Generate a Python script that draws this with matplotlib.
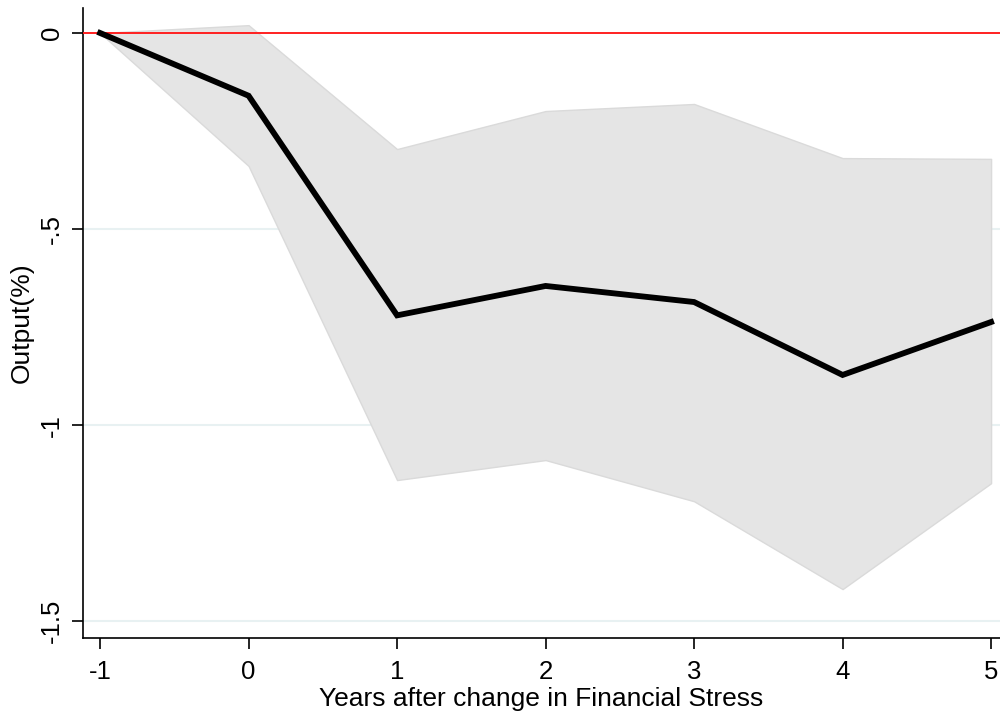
import matplotlib
matplotlib.use("Agg")
import matplotlib.pyplot as plt

plt.rcParams["font.family"] = ["Liberation Sans", "DejaVu Sans"]
plt.rcParams["axes.unicode_minus"] = False

years = [-1, 0, 1, 2, 3, 4, 5]
output_irf = [0.0, -0.16, -0.72, -0.645, -0.686, -0.872, -0.737]
upper_band = [0.0, 0.02, -0.296, -0.199, -0.181, -0.319, -0.321]
lower_band = [0.0, -0.339, -1.14, -1.089, -1.194, -1.418, -1.148]

y_ticks = [0, -0.5, -1, -1.5]
y_tick_labels = ["0", "-.5", "-1", "-1.5"]

fig = plt.figure(figsize=(10, 7.17), dpi=100)
ax = fig.add_axes([0.083, 0.11, 0.917, 0.879])

ax.fill_between(years, lower_band, upper_band, facecolor="#e5e5e5",
                edgecolor="#dadada", linewidth=1.0, zorder=2)
ax.axhline(0, color="#ff2020", linewidth=1.4, zorder=3)
ax.plot(years, output_irf, color="black", linewidth=4.2,
        solid_joinstyle="miter", zorder=4)

for y in y_ticks[1:]:
    ax.axhline(y, color="#e8f1f2", linewidth=1.5, zorder=1)

ax.set_xlim(-1.115, 5.06)
ax.set_ylim(-1.543, 0.064)
ax.set_xticks(years)
ax.set_xticklabels([str(y) for y in years])
ax.set_yticks(y_ticks)
ax.set_yticklabels(y_tick_labels, rotation=90, va="center")

ax.spines["top"].set_visible(False)
ax.spines["right"].set_visible(False)
ax.spines["left"].set_linewidth(1.2)
ax.spines["bottom"].set_linewidth(1.2)
ax.tick_params(axis="both", labelsize=18.5, length=8, width=1.2)
ax.tick_params(axis="x", pad=8)
ax.tick_params(axis="y", pad=6)

ax.set_xlabel("Years after change in Financial Stress", fontsize=19, labelpad=2)
ax.set_ylabel("Output(%)", fontsize=19, labelpad=4)

fig.savefig("out.png", dpi=100)
